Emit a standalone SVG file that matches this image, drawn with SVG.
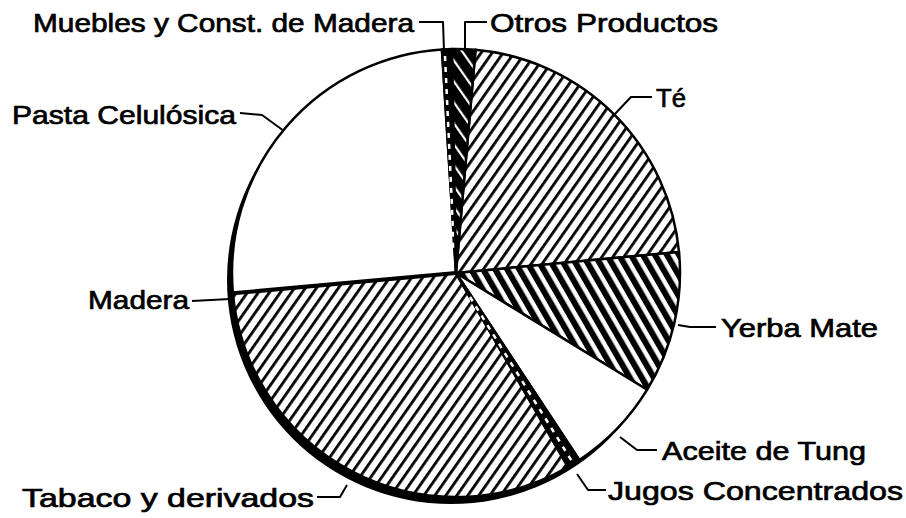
<svg xmlns="http://www.w3.org/2000/svg" width="906" height="518" viewBox="0 0 906 518">
<defs>
<pattern id="hatchThin" patternUnits="userSpaceOnUse" width="9" height="9" patternTransform="rotate(35)">
<rect width="9" height="9" fill="#fff"/>
<rect x="0" y="0" width="2.8" height="9" fill="#000"/>
</pattern>
<pattern id="hatchDense" patternUnits="userSpaceOnUse" width="10.4" height="10" patternTransform="rotate(-30)">
<rect width="10.4" height="10" fill="#fff"/>
<rect x="0" y="0" width="6" height="10" fill="#000"/>
</pattern>
<pattern id="hatchDark" patternUnits="userSpaceOnUse" width="12" height="12" patternTransform="rotate(-35)">
<rect width="12" height="12" fill="#000"/>
<rect x="0" y="0" width="2.2" height="12" fill="#fff"/>
</pattern>
</defs>
<style>
.lbl{font-family:"Liberation Sans",Arial,sans-serif;font-size:26px;fill:#000;stroke:#000;stroke-width:0.7}
.slice{stroke:#000;stroke-width:2.5;stroke-linejoin:round}
.lead{fill:none;stroke:#000;stroke-width:2;stroke-linejoin:round}
.dash{stroke:#fff;stroke-width:2.5;stroke-dasharray:5 6;fill:none}
</style>
<rect width="906" height="518" fill="#fff"/>
<circle id="shadow" cx="451" cy="280" r="224" fill="#000"/>
<circle cx="456" cy="273" r="224" fill="#fff"/>
<g id="pasta">
<path class="slice" d="M456,273 L232.92,293.30 A224,224 0 0 1 441.93,49.44 Z" fill="#fff"/>
</g>
<g id="tabaco">
<path d="M456,273 L568,466.99 A224,224 0 0 1 284.41,416.98 Z" fill="url(#hatchThin)" stroke="url(#hatchThin)" stroke-width="1"/>
</g>
<g id="madera">
<path d="M456,273 L284.41,416.98 A224,224 0 0 1 232.92,293.30 Z" fill="url(#hatchThin)" stroke="url(#hatchThin)" stroke-width="1"/>
</g>
<path d="M568,466.99 A224,224 0 0 1 232.92,293.30 L456,273 Z" fill="none" class="slice"/>
<path d="M232.92,293.30 L456,273" stroke="#000" stroke-width="4" fill="none"/>
<g id="te">
<path class="slice" d="M456,273 L475.52,49.85 A224,224 0 0 1 679.01,251.92 Z" fill="url(#hatchThin)"/>
</g>
<g id="yerba">
<path class="slice" d="M456,273 L679.01,251.92 A224,224 0 0 1 647.16,389.71 Z" fill="url(#hatchDense)"/>
</g>
<g id="aceite">
<path class="slice" d="M456,273 L647.16,389.71 A224,224 0 0 1 579.31,460.01 Z" fill="#fff"/>
</g>
<g id="jugos">
<path class="slice" d="M456,273 L579.31,460.01 A224,224 0 0 1 568,466.99 Z" fill="#000"/>
<path class="dash" d="M470,297 L573,463"/>
</g>
<g id="muebles">
<path class="slice" d="M456,273 L441.93,49.44 A224,224 0 0 1 452.09,49.03 Z" fill="#000"/>
<path class="dash" d="M445,56 L454,250"/>
</g>
<g id="otros">
<path class="slice" d="M456,273 L452.09,49.03 A224,224 0 0 1 475.52,49.85 Z" fill="url(#hatchDark)"/>
</g>
<g id="connectors">
<polyline class="lead" points="419,22 443,22 444,51"/>
<polyline class="lead" points="487,22 465,22 465,52"/>
<polyline class="lead" points="613,116 631,97 652,97"/>
<polyline class="lead" points="240,113 262,115 284,131"/>
<polyline class="lead" points="192,301 230,299"/>
<polyline class="lead" points="678,325 690,327 716,327"/>
<polyline class="lead" points="620,437 637,450 657,450"/>
<polyline class="lead" points="577,474 588,490 606,490"/>
<polyline class="lead" points="317,497 340,497 347,485"/>
</g>
<g id="labels">
<text class="lbl" x="33" y="32" textLength="381" lengthAdjust="spacingAndGlyphs">Muebles y Const. de Madera</text>
<text class="lbl" x="490" y="32" textLength="228" lengthAdjust="spacingAndGlyphs">Otros Productos</text>
<text class="lbl" x="656" y="107" textLength="30" lengthAdjust="spacingAndGlyphs">Té</text>
<text class="lbl" x="12" y="124" textLength="224" lengthAdjust="spacingAndGlyphs">Pasta Celulósica</text>
<text class="lbl" x="88" y="309" textLength="101" lengthAdjust="spacingAndGlyphs">Madera</text>
<text class="lbl" x="721" y="337" textLength="157" lengthAdjust="spacingAndGlyphs">Yerba Mate</text>
<text class="lbl" x="662" y="460" textLength="204" lengthAdjust="spacingAndGlyphs">Aceite de Tung</text>
<text class="lbl" x="608" y="500" textLength="295" lengthAdjust="spacingAndGlyphs">Jugos Concentrados</text>
<text class="lbl" x="22" y="507" textLength="292" lengthAdjust="spacingAndGlyphs">Tabaco y derivados</text>
</g>
</svg>
